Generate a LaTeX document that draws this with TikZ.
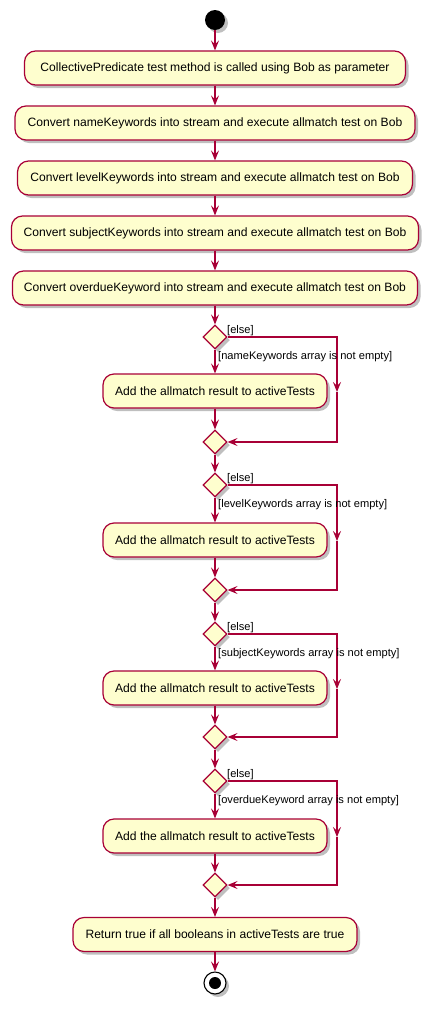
\documentclass[tikz,border=0pt]{standalone}
\usepackage{fontspec}
\setmainfont{Liberation Sans}
\usetikzlibrary{arrows.meta,shapes.geometric,shadows}
\definecolor{umlred}{HTML}{A80036}
\definecolor{umlfill}{HTML}{FEFECE}
\tikzset{
  shad/.style={drop shadow={shadow xshift=3pt,shadow yshift=-3pt,opacity=0.25,fill=black}},
  actbox/.style={draw=umlred,fill=umlfill,line width=1.2pt,rounded corners=11pt,minimum height=34pt,inner sep=0pt,font=\fontsize{12.1}{14}\selectfont,shad},
  dia/.style={diamond,draw=umlred,fill=umlfill,line width=1.2pt,minimum width=24pt,minimum height=24pt,inner sep=0pt,shad},
  flow/.style={draw=umlred,line width=1.1pt,-{Stealth[length=10pt,width=8pt,inset=4pt]}},
  lbl/.style={font=\fontsize{11.1}{13}\selectfont,inner sep=0pt}
}
\begin{document}
\begin{tikzpicture}[x=1pt,y=-1pt]
\useasboundingbox (0,0) rectangle (435,1010);
\node[circle,fill=black,minimum size=20pt,inner sep=0pt,shad] (start) at (215,20) {};
\node[actbox,minimum width=381pt] (a1) at (215,68) {CollectivePredicate test method is called using Bob as parameter};
\node[actbox,minimum width=400pt] (a2) at (215,123) {Convert nameKeywords into stream and execute allmatch test on Bob};
\node[actbox,minimum width=395pt] (a3) at (215,178) {Convert levelKeywords into stream and execute allmatch test on Bob};
\node[actbox,minimum width=407pt] (a4) at (215,233) {Convert subjectKeywords into stream and execute allmatch test on Bob};
\node[actbox,minimum width=405pt] (a5) at (215,288) {Convert overdueKeyword into stream and execute allmatch test on Bob};
\draw[flow] (start) -- (a1);
\draw[flow] (a1) -- (a2);
\draw[flow] (a2) -- (a3);
\draw[flow] (a3) -- (a4);
\draw[flow] (a4) -- (a5);
% decision blocks
\foreach \i/\yd/\ya/\ym/\cond in {1/337/391/442/nameKeywords,2/485/540/590/levelKeywords,3/634/688/737/subjectKeywords,4/781/836/885/overdueKeyword}{
  \node[dia] (d\i) at (215,\yd) {};
  \node[actbox,minimum width=224pt] (b\i) at (215,\ya) {Add the allmatch result to activeTests};
  \node[dia] (m\i) at (215,\ym) {};
  \coordinate (e\i a) at (337,\yd);
  \coordinate (e\i b) at (337,\ya+1);
  \coordinate (e\i c) at (337,\ym);
  \draw[flow] (d\i) -- (b\i);
  \draw[flow] (b\i) -- (m\i);
  \draw[flow] (d\i.east) -- (e\i a) -- (e\i b);
  \draw[flow] (e\i b) -- (e\i c) -- (m\i.east);
  \node[lbl,anchor=west] (el\i) at (227,\yd-6) {[else]};
  \node[lbl,anchor=west] (cl\i) at (218,\yd+20) {[\cond{} array is not empty]};
}
\draw[flow] (a5) -- (d1);
\draw[flow] (m1) -- (d2);
\draw[flow] (m2) -- (d3);
\draw[flow] (m3) -- (d4);
\node[actbox,minimum width=284pt] (fin) at (215,934.5) {Return true if all booleans in activeTests are true};
\draw[flow] (m4) -- (fin);
\node[circle,draw=black,line width=1.1pt,fill=white,minimum size=22pt,inner sep=0pt,shad] (end) at (215,983) {};
\node[circle,fill=black,minimum size=12pt,inner sep=0pt] (endin) at (end.center) {};
\draw[flow] (fin) -- (end);
\end{tikzpicture}
\end{document}
